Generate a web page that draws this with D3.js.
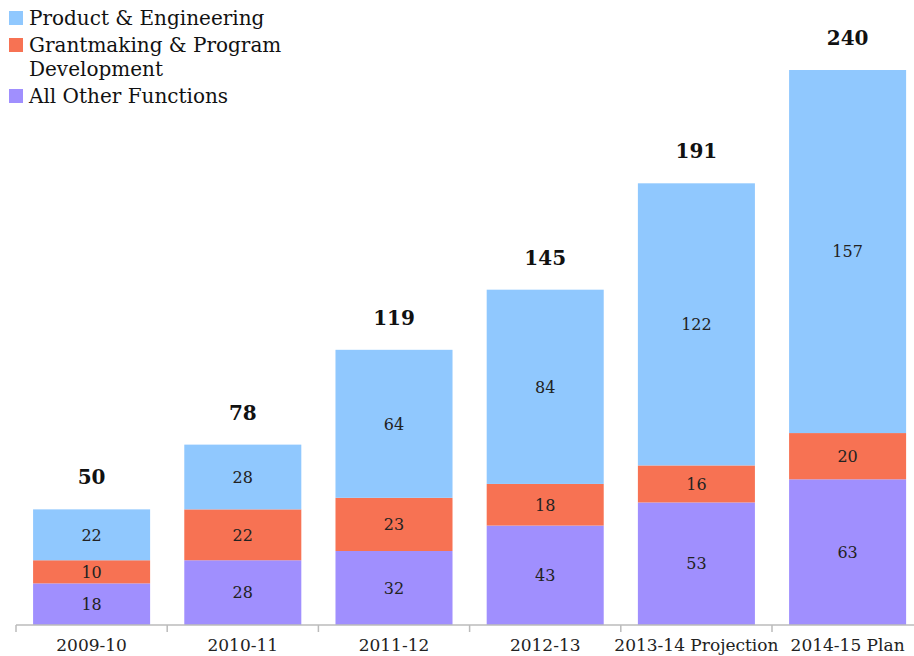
<!DOCTYPE html>
<html><head><meta charset="utf-8">
<script src="https://cdn.jsdelivr.net/npm/d3@7"></script>
<style>body{margin:0;background:#fff}svg{display:block}text{font-family:"DejaVu Serif",serif}</style>
</head><body><svg id="c" width="914" height="656"></svg>
<script>
const categories = ["2009-10","2010-11","2011-12","2012-13","2013-14 Projection","2014-15 Plan"];
const otherFunctions = [18,28,32,43,53,63];
const grantmaking = [10,22,23,18,16,20];
const productEng = [22,28,64,84,122,157];
const totals = [50,78,119,145,191,240];
const seriesNames = ["Product & Engineering","Grantmaking & Program Development","All Other Functions"];
const colors = {"All Other Functions":"#A08FFE","Grantmaking & Program Development":"#F77253","Product & Engineering":"#90C8FE"};

const svg = d3.select("#c");
const x = d3.scaleBand().domain(categories).range([16, 923.2]).paddingInner(0.226).paddingOuter(0.113);
const y = d3.scaleLinear().domain([0, 240]).range([625, 70]);

const rows = categories.map((c,i)=>({cat:c,"All Other Functions":otherFunctions[i],"Grantmaking & Program Development":grantmaking[i],"Product & Engineering":productEng[i]}));
const stack = d3.stack().keys(["All Other Functions","Grantmaking & Program Development","Product & Engineering"])(rows);

const g = svg.append("g");
stack.forEach(s=>{
  g.selectAll(null).data(s).enter().append("rect")
    .attr("x",d=>x(d.data.cat)).attr("width",x.bandwidth())
    .attr("y",d=>y(d[1])).attr("height",d=>y(d[0])-y(d[1]))
    .attr("fill",colors[s.key]);
  g.selectAll(null).data(s).enter().append("text")
    .attr("x",d=>x(d.data.cat)+x.bandwidth()/2).attr("y",d=>(y(d[0])+y(d[1]))/2)
    .attr("dy","0.36em").attr("text-anchor","middle").attr("font-size",16).attr("fill","#222")
    .text(d=>d[1]-d[0]);
});
g.selectAll(null).data(categories).enter().append("text")
  .attr("x",c=>x(c)+x.bandwidth()/2).attr("y",(c,i)=>y(totals[i])-25)
  .attr("text-anchor","middle").attr("font-size",20).attr("font-weight","bold").attr("fill","#111")
  .text((c,i)=>totals[i]);

// axis
const ax = svg.append("g").attr("transform","translate(0,625)");
ax.append("line").attr("x1",16).attr("x2",914).attr("stroke","#bbb").attr("stroke-width",1.5);
const bounds = categories.map(c=>x(c)-x.step()*x.paddingInner()/2);
ax.selectAll(null).data(bounds).enter().append("line")
  .attr("x1",d=>d).attr("x2",d=>d).attr("y1",0).attr("y2",7).attr("stroke","#bbb").attr("stroke-width",1.5);
ax.selectAll(null).data(categories).enter().append("text")
  .attr("x",c=>x(c)+x.bandwidth()/2).attr("y",26).attr("text-anchor","middle")
  .attr("font-size",17).attr("fill","#222").text(c=>c);

// legend
const leg = svg.append("g");
const legItems = [
  {name:seriesNames[0], lines:["Product & Engineering"], y:18},
  {name:seriesNames[1], lines:["Grantmaking & Program","Development"], y:45},
  {name:seriesNames[2], lines:["All Other Functions"], y:96}
];
legItems.forEach(it=>{
  leg.append("rect").attr("x",9).attr("y",it.y-7).attr("width",14).attr("height",14).attr("fill",colors[it.name]);
  it.lines.forEach((l,j)=>{
    leg.append("text").attr("x",29).attr("y",it.y+j*24).attr("dy","0.34em").attr("font-size",20).attr("fill","#111").text(l);
  });
});
</script></body></html>
